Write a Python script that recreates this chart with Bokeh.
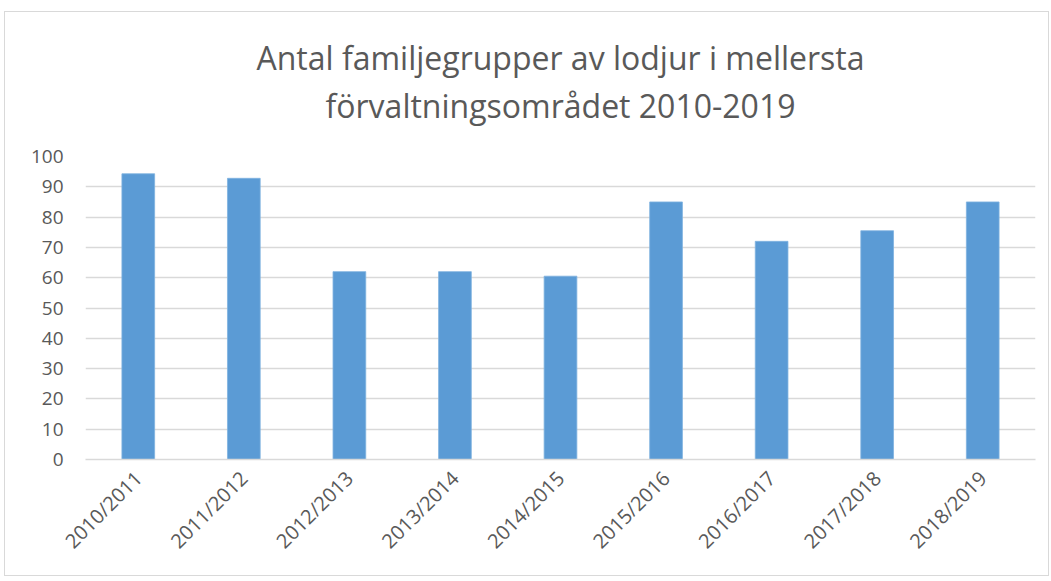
import math
from bokeh.plotting import figure
from bokeh.models import ColumnDataSource, Title, FactorRange, Range1d
from bokeh.embed import file_html
from bokeh.resources import INLINE

seasons = ["2010/2011", "2011/2012", "2012/2013", "2013/2014", "2014/2015",
           "2015/2016", "2016/2017", "2017/2018", "2018/2019"]
family_groups = [94.3, 92.8, 62, 62, 60.5, 85, 72, 75.5, 85]
title_lines = ["Antal familjegrupper av lodjur i mellersta",
               "förvaltningsområdet 2010-2019"]

TEXT = "#595959"
GRID = "#D9D9D9"
BAR = "#5B9BD5"
FONT = "Open Sans"

src = ColumnDataSource(dict(x=seasons, y=family_groups))

p = figure(x_range=FactorRange(*seasons, range_padding=0),
           y_range=Range1d(0, 100),
           width=1045, height=565, output_backend="svg",
           toolbar_location=None,
           min_border_left=80, min_border_right=15,
           min_border_top=144, min_border_bottom=118)
p.styles = {"border": "1px solid #D9D9D9", "margin-left": "4px",
            "margin-top": "11px"}

p.vbar(x="x", top="y", width=0.31, source=src, fill_color=BAR,
       line_color="#7FB2E0", line_width=0.8)

p.outline_line_color = None
p.xgrid.grid_line_color = None
p.ygrid.grid_line_color = GRID
p.ygrid.grid_line_width = 1.3
p.yaxis.ticker = list(range(0, 101, 10))

p.yaxis.axis_line_color = None
p.yaxis.major_tick_line_color = None
p.yaxis.minor_tick_line_color = None
p.yaxis.major_tick_out = 0
p.yaxis.major_label_standoff = 22
p.yaxis.major_label_text_font = FONT
p.yaxis.major_label_text_font_size = "19px"
p.yaxis.major_label_text_color = TEXT

p.xaxis.axis_line_color = GRID
p.xaxis.axis_line_width = 1.3
p.xaxis.major_tick_line_color = None
p.xaxis.major_tick_out = 0
p.xaxis.major_label_orientation = math.pi / 4
p.xaxis.major_label_standoff = 15
p.xaxis.major_label_text_font = FONT
p.xaxis.major_label_text_font_size = "20px"
p.xaxis.major_label_text_color = TEXT

# spacer nearest the plot, then line 2, then line 1
p.add_layout(Title(text=" ", text_font_size="22px", standoff=0), "above")
p.add_layout(Title(text=title_lines[1], align="center", text_font=FONT,
                   text_font_size="32px", text_color=TEXT,
                   text_font_style="normal", standoff=6), "above")
p.add_layout(Title(text=title_lines[0], align="center", text_font=FONT,
                   text_font_size="32px", text_color=TEXT,
                   text_font_style="normal", standoff=0), "above")

open("out.html", "w").write(file_html(p, INLINE))
